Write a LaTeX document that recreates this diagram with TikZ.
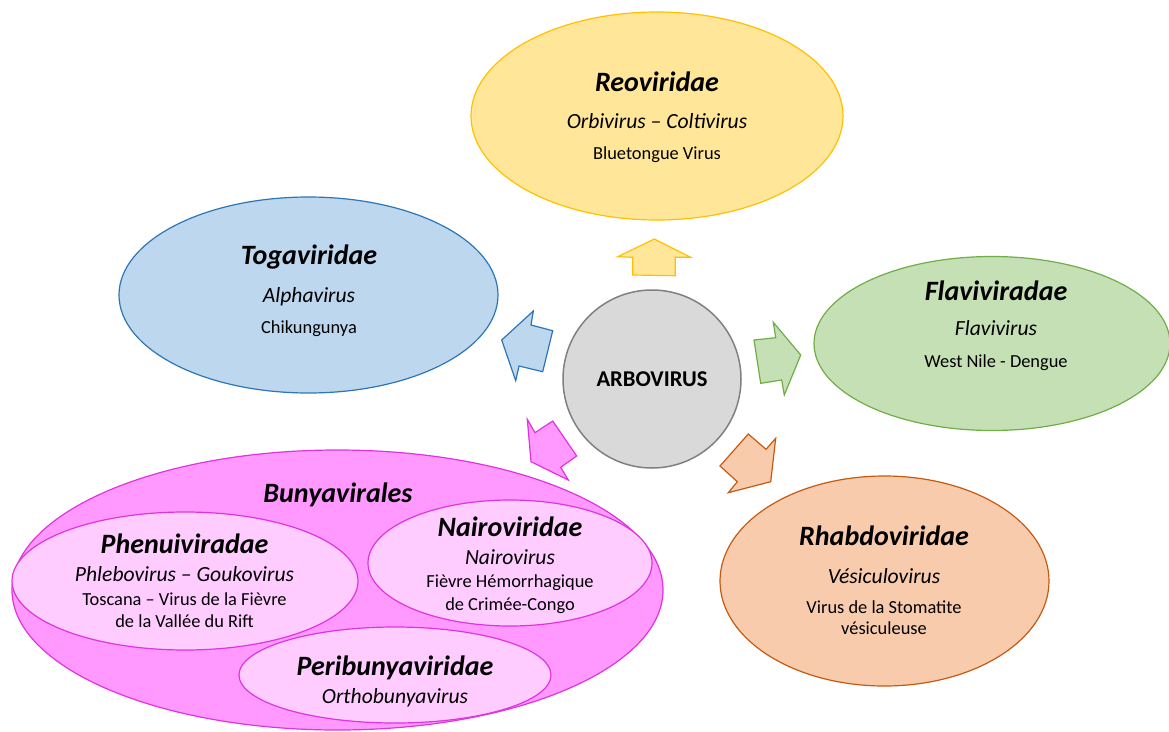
\documentclass[tikz,border=0pt]{standalone}
\usepackage{fontspec}
\setmainfont{Carlito}
\usetikzlibrary{shapes.geometric}
\definecolor{yfill}{HTML}{FFE699}\definecolor{ydraw}{HTML}{FFC000}
\definecolor{bfill}{HTML}{BDD7EE}\definecolor{bdraw}{HTML}{2E75B6}
\definecolor{gfill}{HTML}{C5E0B4}\definecolor{gdraw}{HTML}{70AD47}
\definecolor{ofill}{HTML}{F8CBAD}\definecolor{odraw}{HTML}{C55A11}
\definecolor{cfill}{HTML}{D9D9D9}\definecolor{cdraw}{HTML}{808080}
\definecolor{pfill}{HTML}{FF99FF}\definecolor{pdraw}{HTML}{E033E0}
\definecolor{plight}{HTML}{FFCCFF}
\tikzset{
  ell/.style={ellipse, inner sep=0pt, line width=1.2pt},
  blk/.style={line width=1.2pt, line join=miter},
  txt/.style={anchor=base, inner sep=0pt},
  ttl/.style={txt, font=\fontsize{28}{32}\selectfont\bfseries\itshape},
  sub/.style={txt, font=\fontsize{21.6}{25}\selectfont\itshape},
  body/.style={txt, font=\fontsize{18.4}{21.5}\selectfont},
}
\begin{document}
\begin{tikzpicture}[x=1pt,y=-1pt]
\useasboundingbox (0,0) rectangle (1169,731);
% Reoviridae
\node[ell, fill=yfill, draw=ydraw, minimum width=372pt, minimum height=208pt] (reo) at (657,116) {};
\node[ttl] (reoT) at (657,91.7) {Reoviridae};
\node[sub] (reoS) at (657,128.3) {Orbivirus – Coltivirus};
\node[body] (reoB) at (657,159.3) {Bluetongue Virus};
% Togaviridae
\node[ell, fill=bfill, draw=bdraw, minimum width=379pt, minimum height=196pt] (toga) at (308.5,295) {};
\node[ttl] (togaT) at (309,264) {Togaviridae};
\node[sub] (togaS) at (309,302) {Alphavirus};
\node[body] (togaB) at (309,333) {Chikungunya};
% Flaviviradae
\node[ell, fill=gfill, draw=gdraw, minimum width=356pt, minimum height=174pt] (flavi) at (992,343.5) {};
\node[ttl] (flaviT) at (996,300) {Flaviviradae};
\node[sub] (flaviS) at (996,335) {Flavivirus};
\node[body] (flaviB) at (996,367) {West Nile - Dengue};
% Rhabdoviridae
\node[ell, fill=ofill, draw=odraw, minimum width=329pt, minimum height=210pt] (rhabdo) at (884.5,581) {};
\node[ttl] (rhabdoT) at (884,545) {Rhabdoviridae};
\node[sub] (rhabdoS) at (884,583) {Vésiculovirus};
\node[body] (rhabdoB1) at (884,613.3) {Virus de la Stomatite};
\node[body] (rhabdoB2) at (884,634.3) {vésiculeuse};
% Bunyavirales
\node[ell, fill=pfill, draw=pdraw, minimum width=651pt, minimum height=280pt] (bunya) at (337.5,590) {};
\node[ttl] (bunyaT) at (338,502.7) {Bunyavirales};
\node[ell, fill=plight, draw=pdraw, minimum width=346pt, minimum height=138pt] (phenui) at (185,581) {};
\node[ttl] (phenuiT) at (184.5,553.3) {Phenuiviradae};
\node[sub] (phenuiS) at (184.5,581.7) {Phlebovirus – Goukovirus};
\node[body] (phenuiB1) at (184.5,605) {Toscana – Virus de la Fièvre};
\node[body] (phenuiB2) at (184.5,627.3) {de la Vallée du Rift};
\node[ell, fill=plight, draw=pdraw, minimum width=284pt, minimum height=126pt] (nairo) at (510,563) {};
\node[ttl] (nairoT) at (510,536.7) {Nairoviridae};
\node[sub] (nairoS) at (510,564.3) {Nairovirus};
\node[body] (nairoB1) at (510,587.7) {Fièvre Hémorrhagique};
\node[body] (nairoB2) at (510,610) {de Crimée-Congo};
\node[ell, fill=plight, draw=pdraw, minimum width=312pt, minimum height=96pt] (peri) at (395,675) {};
\node[ttl] (periT) at (395,675) {Peribunyaviridae};
\node[sub] (periS) at (395,703.3) {Orthobunyavirus};
% centre
\node[circle, fill=cfill, draw=cdraw, line width=1.5pt, minimum size=178pt, inner sep=0pt,
      font=\fontsize{22.6}{26}\selectfont\bfseries] (arbo) at (652,379) {ARBOVIRUS};
% block arrows
\filldraw[blk, fill=yfill, draw=ydraw] (654.3,239) -- (690.7,257.3) -- (675.3,257.3) -- (675.3,275.7) -- (632.7,275) -- (632.7,257.3) -- (617.7,256.7) -- cycle;
\filldraw[blk, fill=bfill, draw=bdraw] (501.7,340) -- (533.3,311) -- (531,325) -- (552.7,330.7) -- (542.7,371.7) -- (519,366) -- (515.7,380.7) -- cycle;
\filldraw[blk, fill=gfill, draw=gdraw] (800.7,355) -- (773.3,322.3) -- (775.7,337.7) -- (754,340) -- (760.7,383.3) -- (781.7,380) -- (784.3,395) -- cycle;
\filldraw[blk, fill=ofill, draw=odraw] (770.7,481.7) -- (775.7,438.3) -- (766,449.3) -- (748.3,434) -- (720,466) -- (737.3,481.7) -- (728.3,492.7) -- cycle;
\filldraw[blk, fill=pfill, draw=pdraw] (531,461.7) -- (527.3,419.3) -- (535,432.7) -- (552.7,421) -- (576.7,456) -- (560.7,467.3) -- (568.3,480) -- cycle;
\end{tikzpicture}
\end{document}
